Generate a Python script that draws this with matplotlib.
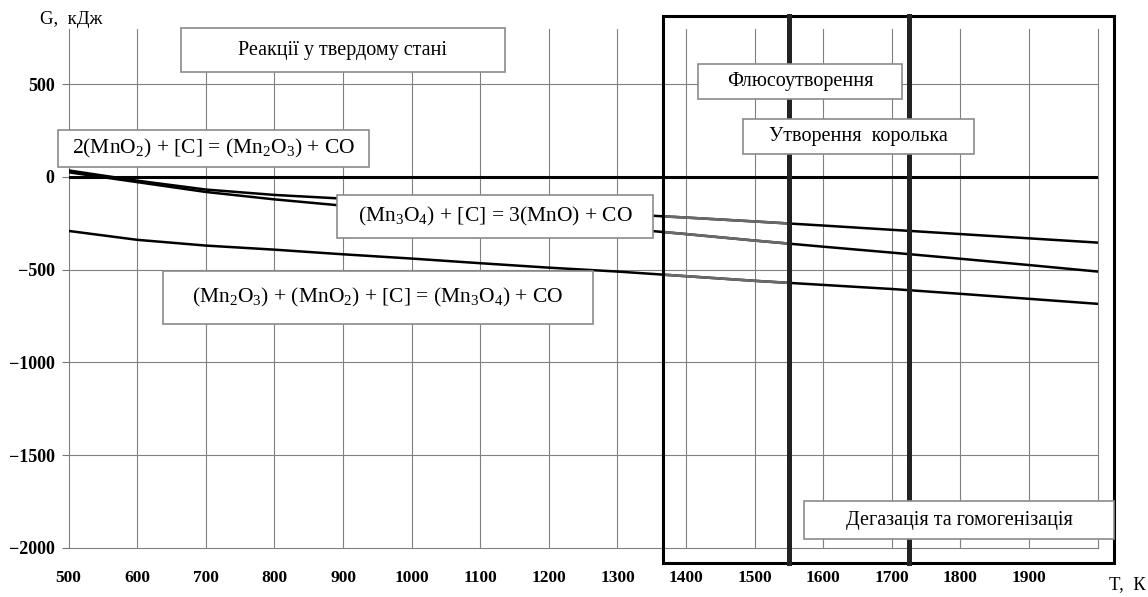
import matplotlib
matplotlib.use('Agg')
import matplotlib.pyplot as plt
import matplotlib.patches as patches
from matplotlib.lines import Line2D
import numpy as np

plt.rcParams['font.family'] = ['Liberation Serif', 'DejaVu Serif']
plt.rcParams['mathtext.fontset'] = 'custom'
plt.rcParams['mathtext.rm'] = 'Liberation Serif'
plt.rcParams['mathtext.default'] = 'regular'

# temperatures, K
T = [500, 600, 700, 800, 900, 1000, 1100, 1200, 1300, 1400,
     1500, 1600, 1700, 1800, 1900, 2000]
# G, kJ
G_mn3o4 = [35, -20, -68, -97, -117, -138, -159, -179, -199, -219,
           -240, -262, -285, -308, -331, -354]
G_mno2 = [25, -28, -81, -121, -155, -184, -214, -244, -275, -308,
          -343, -376, -408, -441, -475, -510]
G_mn2o3 = [-291, -339, -370, -392, -417, -440, -465, -489, -510, -535,
           -560, -582, -604, -630, -657, -684]

x_ticks = [500, 600, 700, 800, 900, 1000, 1100, 1200, 1300, 1400,
           1500, 1600, 1700, 1800, 1900, 2000]
y_ticks = [-2000, -1500, -1000, -500, 0, 500]

# stage boundaries
stage_x0, stage_x1 = 1366, 2024
stage_y0, stage_y1 = -2080, 867
stage_lines = [1550, 1725]

W, H = 1148, 597
fig = plt.figure(figsize=(W / 100, H / 100), dpi=100)
ax = fig.add_axes([68.6 / W, 1 - 548 / H, (1097.7 - 68.6) / W, (548 - 28.5) / H])

ax.set_xlim(500, 2000)
ax.set_ylim(-2000, 800)
for s in ax.spines.values():
    s.set_visible(False)

ax.set_xticks(x_ticks)
ax.set_xticklabels([str(v) if v < 2000 else '' for v in x_ticks],
                   fontweight='bold', fontsize=12.5)
ax.set_yticks(y_ticks)
ax.set_yticklabels(['\u2212' + str(-v) if v < 0 else str(v) for v in y_ticks],
                   fontweight='bold', fontsize=13)
ax.tick_params(axis='x', length=0, pad=16)
ax.tick_params(axis='y', length=5, width=0.8, color='#777777', pad=5)
ax.grid(True, color='#808080', lw=0.8)
for gl in ax.get_ygridlines() + ax.get_xgridlines():
    gl.set_clip_on(False)
ax.axhline(0, color='black', lw=2.2, zorder=3)

# curves: black, grey inside the flux-forming stage
clip = patches.Rectangle((stage_x0, -2100), stage_lines[0] - stage_x0, 3000,
                         transform=ax.transData)
for G in (G_mn3o4, G_mno2, G_mn2o3):
    ax.plot(T, G, color='black', lw=1.8, zorder=4)
    ln, = ax.plot(T, G, color='#6a6a6a', lw=1.9, zorder=4.5)
    ln.set_clip_path(clip)

#### stages ####
ax.add_patch(patches.Rectangle((stage_x0, stage_y0), stage_x1 - stage_x0,
                               stage_y1 - stage_y0, fill=False,
                               edgecolor='black', lw=2.2, clip_on=False, zorder=6))
for xs in stage_lines:
    ax.add_line(Line2D([xs, xs], [stage_y0, stage_y1], color='#222222',
                       lw=3.6, clip_on=False, zorder=6))

#### labels in boxes (pixel boxes) ####
boxes = [
    ((181, 28, 505, 72), 'Реакції у твердому стані', 14.5),
    ((58, 130, 369, 167), '2(MnO$_2$) + [C] = (Mn$_2$O$_3$) + CO', 15.5),
    ((337, 195, 653, 238), '(Mn$_3$O$_4$) + [C] = 3(MnO) + CO', 15.5),
    ((163, 271, 593, 324), '(Mn$_2$O$_3$) + (MnO$_2$) + [C] = (Mn$_3$O$_4$) + CO', 15.5),
    ((698, 64, 902, 99), 'Флюсоутворення', 14.5),
    ((743, 119, 974, 154), 'Утворення  королька', 14.5),
    ((804, 501, 1114, 539), 'Дегазація та гомогенізація', 14.5),
]
for (x0, y0, x1, y1), txt, fs in boxes:
    fig.add_artist(patches.Rectangle((x0 / W, 1 - y1 / H), (x1 - x0) / W, (y1 - y0) / H,
                                     transform=fig.transFigure, facecolor='white',
                                     edgecolor='#8a8a8a', lw=1.2, zorder=10))
    fig.text((x0 + x1) / 2 / W, 1 - (y0 + y1) / 2 / H, txt, ha='center',
             va='center', fontsize=fs, zorder=11)

fig.text(40 / W, 1 - 19 / H, 'G,  кДж', fontsize=13.5, va='center', ha='left')
fig.text(1146 / W, 1 - 585 / H, 'T,  К', fontsize=13.5, va='center', ha='right')

fig.savefig('out.png', dpi=100)
